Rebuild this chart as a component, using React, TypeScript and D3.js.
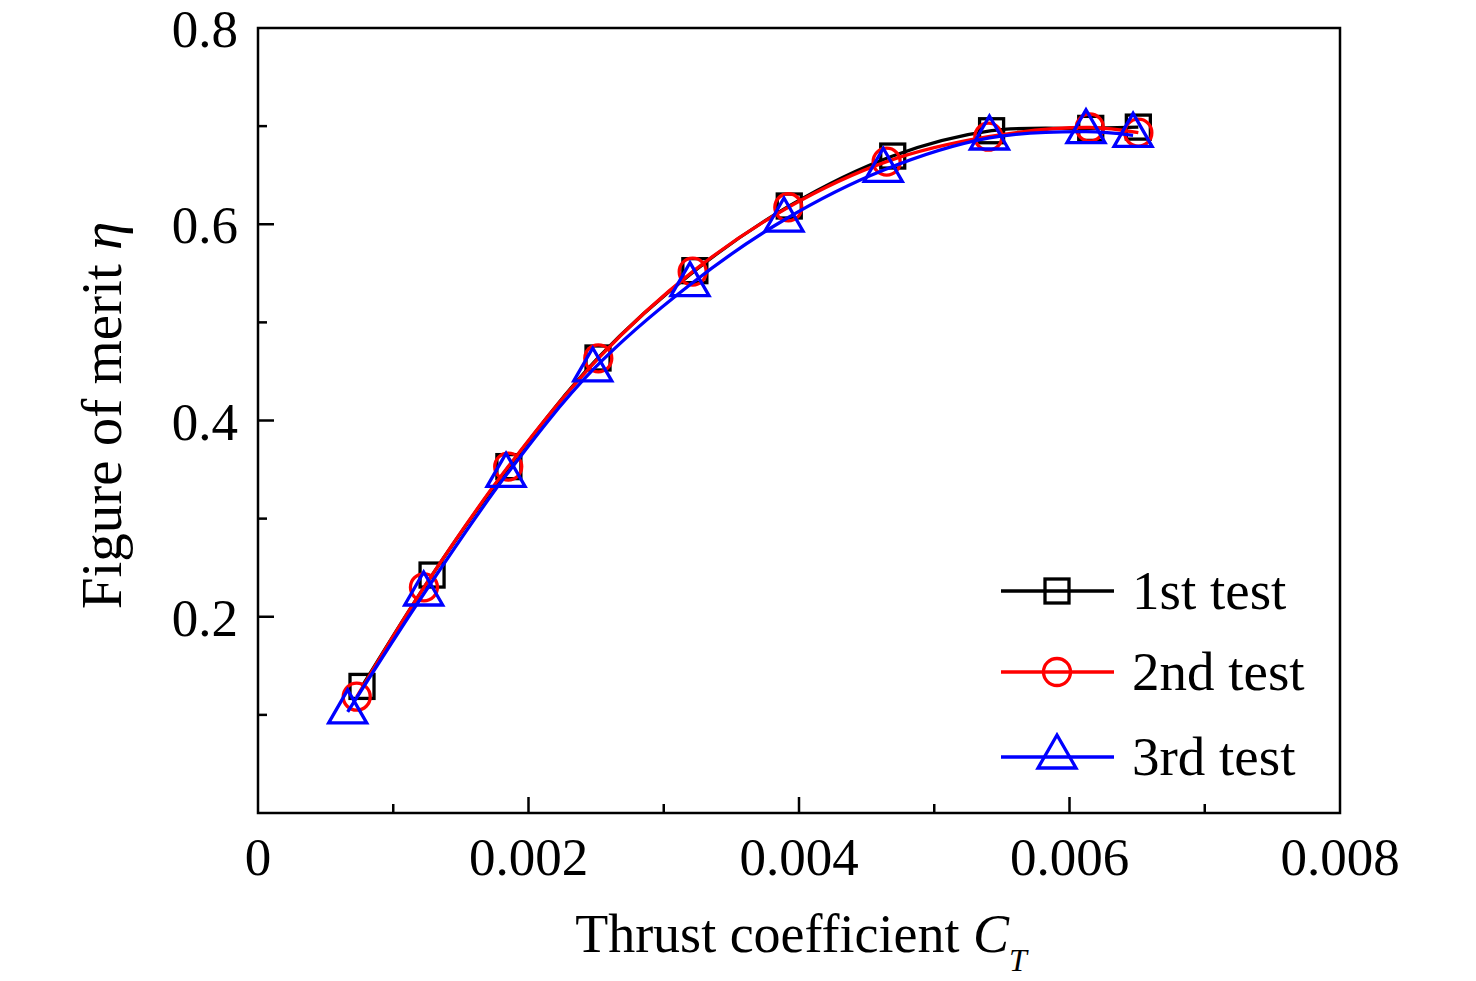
import React, { useEffect, useRef } from 'react';
import * as d3 from 'd3';

// Thrust coefficient (x) and figure of merit (y) for each test run
const ctTest1 = [0.000769, 0.001287, 0.001855, 0.002514, 0.00323, 0.003928, 0.004693, 0.005424, 0.006157, 0.006509];
const fmTest1 = [0.129, 0.2425, 0.353, 0.4637, 0.5527, 0.6186, 0.6695, 0.6953, 0.6977, 0.699];

const ctTest2 = [0.00073, 0.001227, 0.00185, 0.002516, 0.003214, 0.003921, 0.004648, 0.0054, 0.00615, 0.006509];
const fmTest2 = [0.1185, 0.23, 0.353, 0.4634, 0.5517, 0.6173, 0.6638, 0.6892, 0.6986, 0.6933];

const ctTest3 = [0.000663, 0.001225, 0.001834, 0.002475, 0.003194, 0.003889, 0.004623, 0.005408, 0.006122, 0.00647];
const fmTest3 = [0.103, 0.2232, 0.3441, 0.4515, 0.5384, 0.6043, 0.655, 0.6879, 0.6943, 0.6906];

const seriesNames = ['1st test', '2nd test', '3rd test'];
const seriesColors = ['#000000', '#ff0000', '#0000ff'];
const seriesMarkers = ['square', 'circle', 'triangle'];

const xTicks = [0, 0.002, 0.004, 0.006, 0.008];
const xMinorTicks = [0.001, 0.003, 0.005, 0.007];
const yTicks = [0.2, 0.4, 0.6, 0.8];
const yMinorTicks = [0.1, 0.3, 0.5, 0.7];

const FONT = '"Liberation Serif", "Times New Roman", serif';
const SW = 3.3;

function drawMarker(g: d3.Selection<SVGGElement, unknown, null, undefined>, kind: string, x: number, y: number, color: string) {
  if (kind === 'square') {
    g.append('rect')
      .attr('x', x - 12).attr('y', y - 12)
      .attr('width', 24).attr('height', 24)
      .attr('fill', 'none').attr('stroke', color).attr('stroke-width', SW);
  } else if (kind === 'circle') {
    g.append('circle')
      .attr('cx', x).attr('cy', y).attr('r', 13.5)
      .attr('fill', 'none').attr('stroke', color).attr('stroke-width', SW);
  } else {
    // triangle with data point at the centroid
    const h = 33;
    const w = 38;
    g.append('path')
      .attr('d', `M${x},${y - (2 * h) / 3}L${x + w / 2},${y + h / 3}L${x - w / 2},${y + h / 3}Z`)
      .attr('fill', 'none').attr('stroke', color).attr('stroke-width', SW)
      .attr('stroke-linejoin', 'miter');
  }
}

export default function App() {
  const ref = useRef<SVGSVGElement>(null);

  useEffect(() => {
    if (!ref.current) return;
    const svg = d3.select(ref.current);
    svg.selectAll('*').remove();

    const left = 258, right = 1340, top = 28, bottom = 813;
    const x = d3.scaleLinear().domain([0, 0.008]).range([left, right]);
    const y = d3.scaleLinear().domain([0, 0.8]).range([bottom, top]);

    const root = svg.append('g');

    // series lines + markers
    const series = [
      { xs: ctTest1, ys: fmTest1 },
      { xs: ctTest2, ys: fmTest2 },
      { xs: ctTest3, ys: fmTest3 },
    ];

    const line = d3.line<[number, number]>()
      .x(d => x(d[0]))
      .y(d => y(d[1]))
      .curve(d3.curveCatmullRom.alpha(0.5));

    series.forEach((s, i) => {
      const pts = s.xs.map((v, j) => [v, s.ys[j]] as [number, number]);
      const g = root.append('g');
      g.append('path')
        .attr('d', line(pts) as string)
        .attr('fill', 'none')
        .attr('stroke', seriesColors[i])
        .attr('stroke-width', SW);
      pts.forEach(p => drawMarker(g, seriesMarkers[i], x(p[0]), y(p[1]), seriesColors[i]));
    });

    // frame
    root.append('rect')
      .attr('x', left).attr('y', top)
      .attr('width', right - left).attr('height', bottom - top)
      .attr('fill', 'none').attr('stroke', '#000').attr('stroke-width', 2.5);

    // x axis ticks (inward)
    const xAxis = root.append('g').attr('transform', `translate(0,${bottom})`);
    xAxis.selectAll('line.major').data(xTicks.slice(1, -1)).enter().append('line')
      .attr('x1', d => x(d)).attr('x2', d => x(d))
      .attr('y1', 0).attr('y2', -16)
      .attr('stroke', '#000').attr('stroke-width', 2.5);
    xAxis.selectAll('line.minor').data(xMinorTicks).enter().append('line')
      .attr('x1', d => x(d)).attr('x2', d => x(d))
      .attr('y1', 0).attr('y2', -9)
      .attr('stroke', '#000').attr('stroke-width', 2.5);
    xAxis.selectAll('text').data(xTicks).enter().append('text')
      .attr('x', d => x(d)).attr('y', 62)
      .attr('text-anchor', 'middle')
      .style('font-family', FONT).style('font-size', '53px')
      .text(d => (d === 0 ? '0' : d3.format('.3f')(d)));

    // y axis ticks (inward)
    const yAxis = root.append('g').attr('transform', `translate(${left},0)`);
    yAxis.selectAll('line.major').data(yTicks.slice(0, -1)).enter().append('line')
      .attr('y1', d => y(d)).attr('y2', d => y(d))
      .attr('x1', 0).attr('x2', 16)
      .attr('stroke', '#000').attr('stroke-width', 2.5);
    yAxis.selectAll('line.minor').data(yMinorTicks).enter().append('line')
      .attr('y1', d => y(d)).attr('y2', d => y(d))
      .attr('x1', 0).attr('x2', 9)
      .attr('stroke', '#000').attr('stroke-width', 2.5);
    yAxis.selectAll('text').data(yTicks).enter().append('text')
      .attr('x', -20).attr('y', d => y(d) + 19)
      .attr('text-anchor', 'end')
      .style('font-family', FONT).style('font-size', '53px')
      .text(d => d3.format('.1f')(d));

    // axis titles
    const xt = root.append('text')
      .attr('x', (left + right) / 2 + 2).attr('y', 952)
      .attr('text-anchor', 'middle')
      .style('font-family', FONT).style('font-size', '54px');
    xt.append('tspan').text('Thrust coefficient ');
    xt.append('tspan').style('font-style', 'italic').text('C');
    xt.append('tspan').style('font-style', 'italic').style('font-size', '32px').attr('dy', 19).text('T');

    const yt = root.append('text')
      .attr('transform', `translate(121,${(top + bottom) / 2 - 5}) rotate(-90)`)
      .attr('text-anchor', 'middle')
      .style('font-family', FONT).style('font-size', '57px');
    yt.append('tspan').text('Figure of merit ');
    yt.append('tspan').style('font-style', 'italic').text('η');

    // legend
    const legendY = [591, 672, 757];
    seriesNames.forEach((name, i) => {
      const g = root.append('g');
      const ly = legendY[i];
      g.append('line')
        .attr('x1', 1001).attr('x2', 1114)
        .attr('y1', ly).attr('y2', ly)
        .attr('stroke', seriesColors[i]).attr('stroke-width', SW);
      drawMarker(g, seriesMarkers[i], 1057, ly, seriesColors[i]);
      g.append('text')
        .attr('x', 1132).attr('y', ly + 18)
        .style('font-family', FONT).style('font-size', '55px')
        .text(name);
    });
  }, []);

  return (
    <svg
      ref={ref}
      width={1476}
      height={981}
      style={{ position: 'absolute', left: 0, top: 0, background: '#fff' }}
    />
  );
}
